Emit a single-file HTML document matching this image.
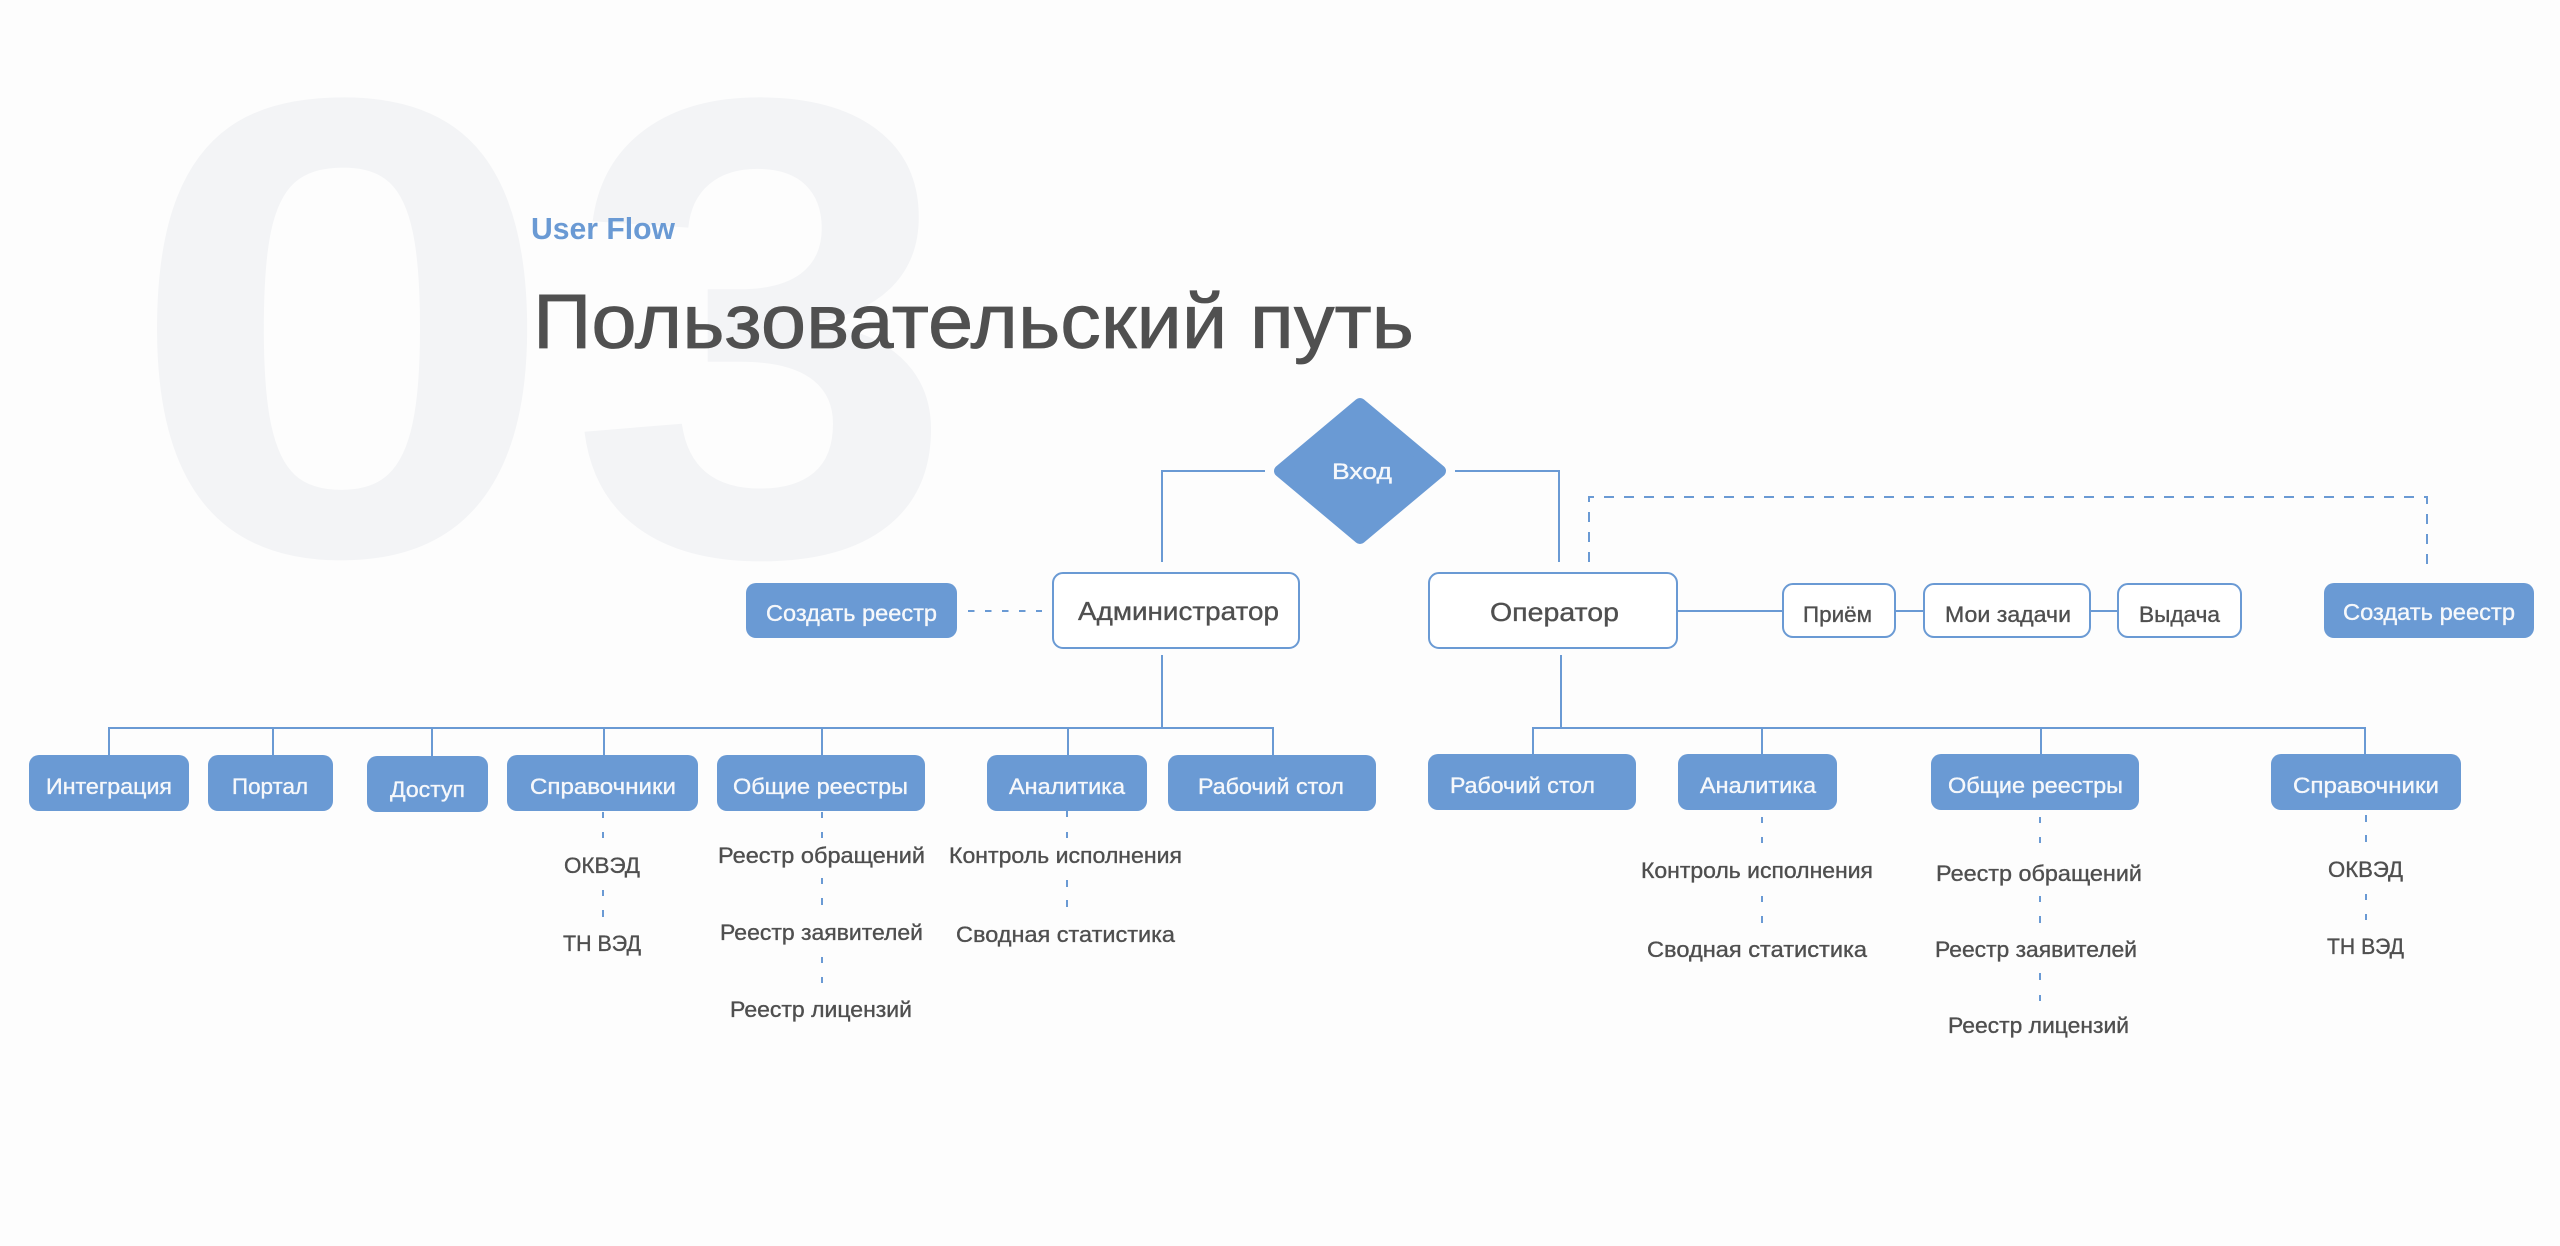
<!DOCTYPE html>
<html><head><meta charset="utf-8"><style>
html,body{margin:0;padding:0;background:#fdfdfd;}
svg{display:block;}
text{font-family:"Liberation Sans","DejaVu Sans",sans-serif;}
.w{fill:#f6f8fb;font-size:22px;stroke:#f6f8fb;stroke-width:0.35;}
.d{fill:#4f4f4f;font-size:22px;stroke:#4f4f4f;stroke-width:0.35;}
.ln{stroke:#6a9ad4;stroke-width:2;fill:none;}
.bx{fill:#6a9ad4;}
.wb{fill:#ffffff;stroke:#6a9ad4;stroke-width:2;}
</style></head><body>
<svg width="2560" height="1246" viewBox="0 0 2560 1246" xmlns="http://www.w3.org/2000/svg">
<rect x="0" y="0" width="2560" height="1246" fill="#fdfdfd"/>
<!-- big background digits -->
<g transform="scale(1.19,1)"><text x="106.1" y="554" font-size="654" font-weight="bold" fill="#f3f4f6" style="font-family:'Liberation Sans',sans-serif">0</text></g>
<g transform="scale(1.066,1)"><text x="533.3" y="554" font-size="654" font-weight="bold" fill="#f3f4f6" style="font-family:'Liberation Sans',sans-serif">3</text></g>

<!-- headings -->
<text x="531" y="239" font-size="31" font-weight="bold" fill="#6a9ad4" textLength="144" lengthAdjust="spacingAndGlyphs">User Flow</text>
<text x="533" y="348" font-size="77" fill="#505050" stroke="#505050" stroke-width="0.8" textLength="881" lengthAdjust="spacingAndGlyphs">Пользовательский путь</text>

<!-- diamond -->
<polygon points="1360,404 1440,471 1360,538 1280,471" fill="#6a9ad4" stroke="#6a9ad4" stroke-width="12" stroke-linejoin="round"/>
<text class="w" x="1332" y="479" textLength="60" lengthAdjust="spacingAndGlyphs">Вход</text>

<!-- solid connectors top -->
<path class="ln" d="M1265 471 H1162 V562"/>
<path class="ln" d="M1455 471 H1559 V562"/>
<!-- top dashed -->
<path class="ln" d="M1589 562 V497 H2427 V571" stroke-dasharray="10 10"/>

<!-- admin -->
<rect class="wb" x="1053" y="573" width="246" height="75" rx="10"/>
<text class="d" x="1078" y="620" font-size="26" style="font-size:26px" textLength="201" lengthAdjust="spacingAndGlyphs">Администратор</text>
<rect class="bx" x="746" y="583" width="211" height="55" rx="10"/>
<text class="w" x="766" y="621" style="font-size:23px" textLength="171" lengthAdjust="spacingAndGlyphs">Создать реестр</text>
<path class="ln" d="M968 611 H1042" stroke-dasharray="6.5 10.5"/>

<!-- admin tree -->
<path class="ln" d="M1162 655 V728 M109 728 H1274 M109 727 V755 M273 727 V755 M432 727 V756 M604 727 V755 M822 727 V755 M1068 727 V755 M1273 727 V755"/>

<rect class="bx" x="29" y="755" width="160" height="56" rx="10"/>
<text class="w" x="46" y="794" textLength="126" lengthAdjust="spacingAndGlyphs">Интеграция</text>
<rect class="bx" x="208" y="755" width="125" height="56" rx="10"/>
<text class="w" x="232" y="794" textLength="76" lengthAdjust="spacingAndGlyphs">Портал</text>
<rect class="bx" x="367" y="756" width="121" height="56" rx="10"/>
<text class="w" x="390" y="797" textLength="75" lengthAdjust="spacingAndGlyphs">Доступ</text>
<rect class="bx" x="507" y="755" width="191" height="56" rx="10"/>
<text class="w" x="530" y="794" textLength="146" lengthAdjust="spacingAndGlyphs">Справочники</text>
<rect class="bx" x="717" y="755" width="208" height="56" rx="10"/>
<text class="w" x="733" y="794" textLength="175" lengthAdjust="spacingAndGlyphs">Общие реестры</text>
<rect class="bx" x="987" y="755" width="160" height="56" rx="10"/>
<text class="w" x="1009" y="794" textLength="116" lengthAdjust="spacingAndGlyphs">Аналитика</text>
<rect class="bx" x="1168" y="755" width="208" height="56" rx="10"/>
<text class="w" x="1198" y="794" textLength="146" lengthAdjust="spacingAndGlyphs">Рабочий стол</text>

<!-- admin sub dashes -->
<path class="ln" d="M603 812 V818 M603 832 V838 M603 890 V896 M603 910 V917
M822 812 V818 M822 832 V838 M822 878 V884 M822 898 V905 M822 957 V963 M822 977 V983
M1067 811 V817 M1067 832 V838 M1067 880 V887 M1067 900 V907"/>

<text class="d" x="564" y="873" textLength="76" lengthAdjust="spacingAndGlyphs">ОКВЭД</text>
<text class="d" x="563" y="951" textLength="78" lengthAdjust="spacingAndGlyphs">ТН ВЭД</text>
<text class="d" x="718" y="863" textLength="207" lengthAdjust="spacingAndGlyphs">Реестр обращений</text>
<text class="d" x="720" y="940" textLength="203" lengthAdjust="spacingAndGlyphs">Реестр заявителей</text>
<text class="d" x="730" y="1017" textLength="182" lengthAdjust="spacingAndGlyphs">Реестр лицензий</text>
<text class="d" x="949" y="863" textLength="233" lengthAdjust="spacingAndGlyphs">Контроль исполнения</text>
<text class="d" x="956" y="942" textLength="219" lengthAdjust="spacingAndGlyphs">Сводная статистика</text>

<!-- operator -->
<rect class="wb" x="1429" y="573" width="248" height="75" rx="10"/>
<text class="d" x="1490" y="621" style="font-size:26px" textLength="129" lengthAdjust="spacingAndGlyphs">Оператор</text>
<path class="ln" d="M1678 611 H1782 M1896 611 H1923 M2091 611 H2117"/>
<rect class="wb" x="1783" y="584" width="112" height="53" rx="10"/>
<text class="d" x="1803" y="622" textLength="69" lengthAdjust="spacingAndGlyphs">Приём</text>
<rect class="wb" x="1924" y="584" width="166" height="53" rx="10"/>
<text class="d" x="1945" y="622" textLength="126" lengthAdjust="spacingAndGlyphs">Мои задачи</text>
<rect class="wb" x="2118" y="584" width="123" height="53" rx="10"/>
<text class="d" x="2139" y="622" textLength="81" lengthAdjust="spacingAndGlyphs">Выдача</text>
<rect class="bx" x="2324" y="583" width="210" height="55" rx="10"/>
<text class="w" x="2343" y="620" style="font-size:23px" textLength="172" lengthAdjust="spacingAndGlyphs">Создать реестр</text>

<!-- operator tree -->
<path class="ln" d="M1561 655 V728 M1533 728 H2366 M1533 727 V754 M1762 727 V754 M2041 727 V754 M2365 727 V754"/>
<rect class="bx" x="1428" y="754" width="208" height="56" rx="10"/>
<text class="w" x="1450" y="793" textLength="145" lengthAdjust="spacingAndGlyphs">Рабочий стол</text>
<rect class="bx" x="1678" y="754" width="159" height="56" rx="10"/>
<text class="w" x="1700" y="793" textLength="116" lengthAdjust="spacingAndGlyphs">Аналитика</text>
<rect class="bx" x="1931" y="754" width="208" height="56" rx="10"/>
<text class="w" x="1948" y="793" textLength="175" lengthAdjust="spacingAndGlyphs">Общие реестры</text>
<rect class="bx" x="2271" y="754" width="190" height="56" rx="10"/>
<text class="w" x="2293" y="793" textLength="146" lengthAdjust="spacingAndGlyphs">Справочники</text>

<path class="ln" d="M1762 817 V823 M1762 837 V843 M1762 896 V902 M1762 916 V923
M2040 817 V823 M2040 837 V843 M2040 896 V902 M2040 916 V923 M2040 973 V980 M2040 995 V1001
M2366 815 V822 M2366 835 V842 M2366 894 V900 M2366 914 V920"/>

<text class="d" x="1641" y="878" textLength="232" lengthAdjust="spacingAndGlyphs">Контроль исполнения</text>
<text class="d" x="1647" y="957" textLength="220" lengthAdjust="spacingAndGlyphs">Сводная статистика</text>
<text class="d" x="1936" y="881" textLength="206" lengthAdjust="spacingAndGlyphs">Реестр обращений</text>
<text class="d" x="1935" y="957" textLength="202" lengthAdjust="spacingAndGlyphs">Реестр заявителей</text>
<text class="d" x="1948" y="1033" textLength="181" lengthAdjust="spacingAndGlyphs">Реестр лицензий</text>
<text class="d" x="2328" y="877" textLength="75" lengthAdjust="spacingAndGlyphs">ОКВЭД</text>
<text class="d" x="2327" y="954" textLength="77" lengthAdjust="spacingAndGlyphs">ТН ВЭД</text>
</svg>
</body></html>
